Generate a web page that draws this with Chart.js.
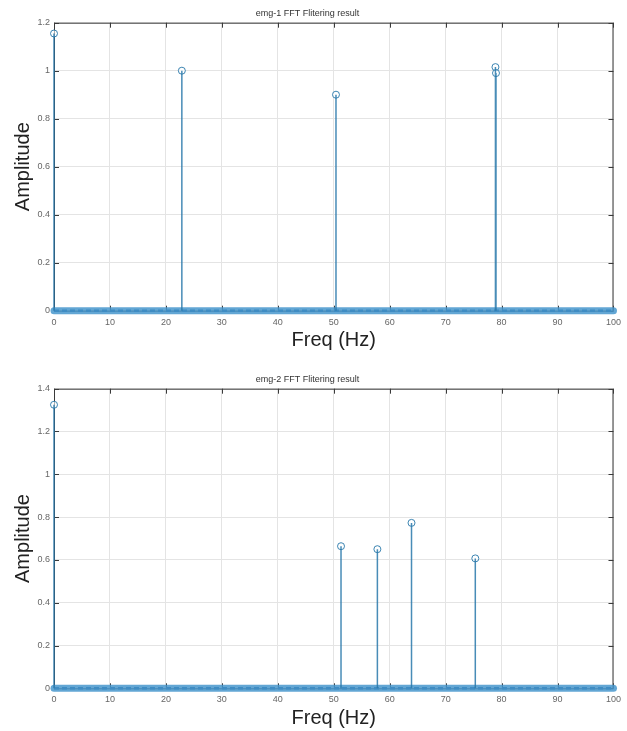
<!DOCTYPE html>
<html>
<head>
<meta charset="utf-8">
<script src="https://cdn.jsdelivr.net/npm/chart.js@4.4.1/dist/chart.umd.min.js"></script>
<style>
  html, body { margin: 0; padding: 0; background: #fff; }
  .box { position: absolute; left: 0; width: 627px; }
</style>
</head>
<body>
<div class="box" style="top:0;height:365px"><canvas id="emg1-chart" width="627" height="365"></canvas></div>
<div class="box" style="top:365px;height:366px"><canvas id="emg2-chart" width="627" height="366"></canvas></div>
<script>
// peak frequencies (Hz) and amplitudes
const emg1Freq = [0, 22.85, 50.4, 78.9, 79.0];
const emg1Amp = [1.155, 1.0, 0.9, 1.015, 0.99];
const emg2Freq = [0, 51.3, 57.8, 63.9, 75.3];
const emg2Amp = [1.325, 0.664, 0.65, 0.773, 0.607];
// every other bin sits at zero
const baseFreq = [0, 100];
const baseAmp = [0, 0];
const xTicks = [0, 10, 20, 30, 40, 50, 60, 70, 80, 90, 100];
const emg1YMax = 1.2;
const emg2YMax = 1.4;

const FONT = "'Liberation Sans', Arial, Helvetica, sans-serif";
const stemColor = 'rgba(40, 120, 170, 0.85)';

// MATLAB style box with inward ticks
const boxPlugin = {
  id: 'matlabBox',
  beforeDatasetsDraw(chart) {
    const { ctx, chartArea: a, scales } = chart;
    ctx.save();
    ctx.strokeStyle = '#3a3a3a';
    ctx.lineWidth = 1;
    ctx.strokeRect(a.left + 0.5, a.top + 0.5, a.right - a.left - 1, a.bottom - a.top);
    ctx.beginPath();
    scales.x.ticks.forEach(t => {
      const px = Math.round(scales.x.getPixelForValue(t.value)) + 0.5;
      ctx.moveTo(px, a.bottom); ctx.lineTo(px, a.bottom - 5);
      ctx.moveTo(px, a.top); ctx.lineTo(px, a.top + 5);
    });
    scales.y.ticks.forEach(t => {
      const py = Math.round(scales.y.getPixelForValue(t.value)) + 0.5;
      ctx.moveTo(a.left, py); ctx.lineTo(a.left + 5, py);
      ctx.moveTo(a.right, py); ctx.lineTo(a.right - 5, py);
    });
    ctx.stroke();
    ctx.restore();
  }
};

function stemData(freq, amp) {
  const out = [];
  freq.forEach((f, i) => {
    out.push({ x: f, y: 0 }, { x: f, y: amp[i] }, { x: f, y: null });
  });
  return out;
}

function makeChart(el, title, freq, amp, yMax, titlePadTop, bottomPad) {
  const points = freq.map((f, i) => ({ x: f, y: amp[i] }));
  const base = baseFreq.map((f, i) => ({ x: f, y: baseAmp[i] }));
  return new Chart(el, {
    type: 'scatter',
    data: {
      datasets: [
        {
          type: 'line',
          data: stemData(freq, amp),
          borderColor: stemColor,
          borderWidth: 1.5,
          pointRadius: 0,
          spanGaps: false,
          clip: false,
        },
        {
          data: points,
          pointRadius: 3.5,
          pointBorderWidth: 1,
          pointBorderColor: 'rgba(40, 120, 170, 0.9)',
          pointBackgroundColor: 'rgba(255, 255, 255, 0.6)',
          clip: false,
        },
        {
          type: 'line',
          data: base,
          borderColor: 'rgba(70, 150, 205, 0.85)',
          borderWidth: 7,
          borderCapStyle: 'round',
          pointRadius: 0,
          clip: false,
        },
        {
          type: 'line',
          data: base,
          borderColor: '#17558c',
          borderWidth: 2.5,
          borderDash: [5, 3],
          pointRadius: 0,
          clip: false,
        },
      ],
    },
    options: {
      responsive: false,
      animation: false,
      layout: { padding: { left: 0, right: 12, top: 0, bottom: bottomPad } },
      plugins: {
        legend: { display: false },
        tooltip: { enabled: false },
        title: {
          display: true,
          text: title,
          color: '#333',
          font: { family: FONT, size: 9, weight: 'normal' },
          padding: { top: titlePadTop, bottom: 3.3 },
        },
      },
      scales: {
        x: {
          type: 'linear',
          min: 0,
          max: 100,
          afterBuildTicks: s => { s.ticks = xTicks.map(v => ({ value: v })); },
          afterFit: s => { s.height = 42; },
          grid: { color: '#e4e4e4', drawTicks: false },
          border: { display: false },
          ticks: { color: '#666', padding: 6, font: { family: FONT, size: 9 } },
          title: {
            display: true,
            text: 'Freq (Hz)',
            color: '#222',
            font: { family: FONT, size: 20 },
            padding: { top: 0, bottom: 0 },
          },
        },
        y: {
          min: 0,
          max: yMax,
          afterFit: s => { s.width = 54; },
          grid: { color: '#e4e4e4', drawTicks: false },
          border: { display: false },
          ticks: {
            stepSize: 0.2,
            color: '#666',
            padding: 4,
            font: { family: FONT, size: 9 },
            callback: v => String(Number(v.toFixed(1))),
          },
          title: {
            display: true,
            text: 'Amplitude',
            color: '#222',
            font: { family: FONT, size: 20 },
            padding: { top: 11, bottom: 0 },
          },
        },
      },
    },
    plugins: [boxPlugin],
  });
}

makeChart(document.getElementById('emg1-chart'), 'emg-1 FFT Flitering result',
  emg1Freq, emg1Amp, emg1YMax, 8.6, 12.3);
makeChart(document.getElementById('emg2-chart'), 'emg-2 FFT Flitering result',
  emg2Freq, emg2Amp, emg2YMax, 9.6, 0.7);
</script>
</body>
</html>
